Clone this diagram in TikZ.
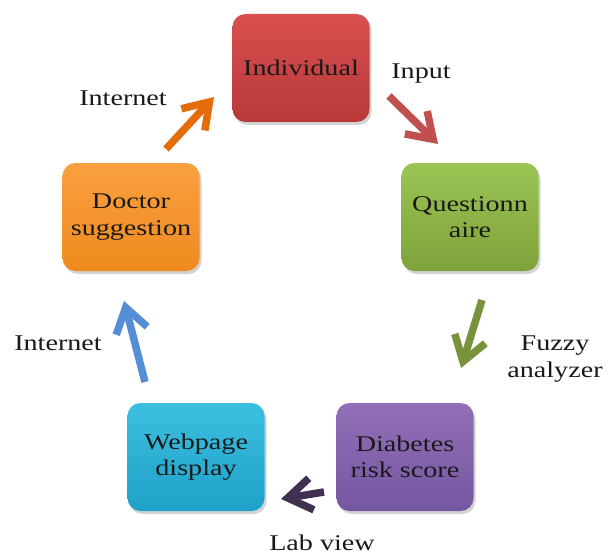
\documentclass[tikz,border=0pt]{standalone}
\usepackage{fontspec}
\setmainfont{Liberation Serif}
\usetikzlibrary{arrows.meta,shadows,calc}
\newcommand{\sx}[1]{\scalebox{1.25}[1]{#1}}
\definecolor{redT}{HTML}{D95050}
\definecolor{redB}{HTML}{B83838}
\definecolor{grnT}{HTML}{9CC455}
\definecolor{grnB}{HTML}{7EA23A}
\definecolor{purT}{HTML}{9270B8}
\definecolor{purB}{HTML}{7556A0}
\definecolor{tealT}{HTML}{3CC0E0}
\definecolor{tealB}{HTML}{1FA0C8}
\definecolor{orgT}{HTML}{FAA040}
\definecolor{orgB}{HTML}{EE8A1E}
\definecolor{arOrg}{HTML}{E46C0A}
\definecolor{arRed}{HTML}{C0504D}
\definecolor{arGrn}{HTML}{77933C}
\definecolor{arPur}{HTML}{403152}
\definecolor{arBlu}{HTML}{558ED5}
\begin{document}
\begin{tikzpicture}[x=1pt,y=-1pt,
  box/.style={draw=none, rounded corners=13pt, minimum width=137pt, minimum height=108pt,
    align=center, font=\fontsize{22.5}{26.5}\selectfont, text=black!90,
    drop shadow={shadow xshift=2pt, shadow yshift=-3pt, opacity=0.35}},
  lbl/.style={font=\fontsize{22.5}{26.5}\selectfont, align=center, text=black!90, inner sep=0pt},
  flow/.style={line width=7.5pt, -{Straight Barb[length=24pt,width=32pt]}},
]
\useasboundingbox (0,0) rectangle (609,556);

% boxes
\node[box, top color=redT, bottom color=redB] (ind) at (301,68) {\sx{Individual}};
\node[box, top color=grnT, bottom color=grnB] (que) at (470,217) {\sx{Questionn}\\\sx{aire}};
\node[box, top color=purT, bottom color=purB] (dia) at (405,457) {\sx{Diabetes}\\\sx{risk score}};
\node[box, top color=tealT, bottom color=tealB] (web) at (196,457) {\sx{Webpage}\\\sx{display}};
\node[box, top color=orgT, bottom color=orgB] (doc) at (131,217) {\sx{Doctor}\\\sx{suggestion}};

% labels
\node[lbl, anchor=base] (lin) at (421,79) {\sx{Input}};
\node[lbl, anchor=base] (lnet1) at (123,106) {\sx{Internet}};
\node[lbl] (lfuz) at (555,359) {\sx{Fuzzy}\\\sx{analyzer}};
\node[lbl, anchor=base] (lnet2) at (58,350) {\sx{Internet}};
\node[lbl, anchor=base] (llab) at (322,550) {\sx{Lab view}};

% arrow end points
\coordinate (o1) at (166,149); \coordinate (o2) at (214,97);
\coordinate (r1) at (389,96);  \coordinate (r2) at (438,144);
\coordinate (g1) at (482,300); \coordinate (g2) at (461,368);
\coordinate (p1) at (324,492); \coordinate (p2) at (281,499);
\coordinate (b1) at (145,382); \coordinate (b2) at (124,301);

\draw[flow, arOrg] (o1) -- (o2);
\draw[flow, arRed] (r1) -- (r2);
\draw[flow, arGrn] (g1) -- (g2);
\draw[flow, arPur] (p1) -- (p2);
\draw[flow, arBlu] (b1) -- (b2);
\end{tikzpicture}
\end{document}
